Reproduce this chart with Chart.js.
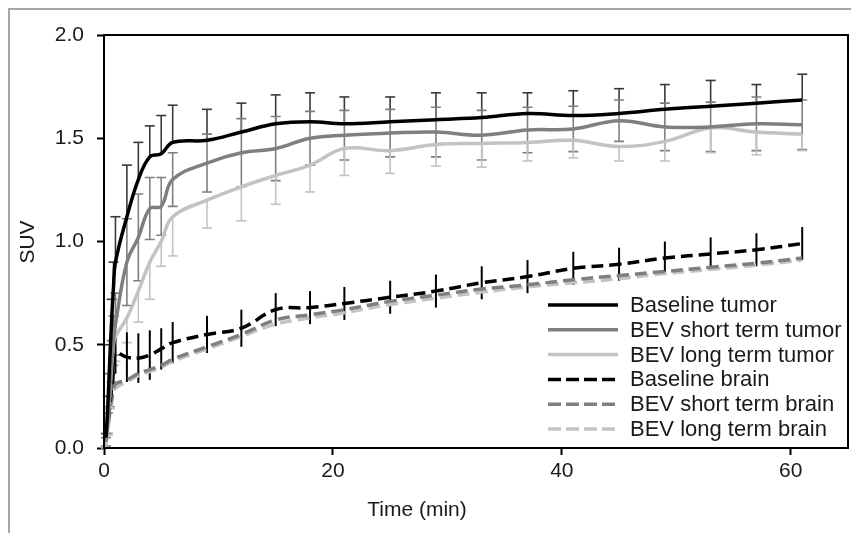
<!DOCTYPE html>
<html>
<head>
<meta charset="utf-8">
<script src="https://cdn.jsdelivr.net/npm/chart.js@4.4.1/dist/chart.umd.min.js"></script>
<style>
  html, body { margin: 0; padding: 0; background: #fff; }
  #wrap { position: relative; width: 851px; height: 533px; }
  #frame { position: absolute; left: 8px; top: 8px; right: 0; bottom: 0; border-top: 2px solid #a6a6a6; border-left: 2px solid #a6a6a6; pointer-events: none; }
  canvas { position: absolute; left: 0; top: 0; }
</style>
</head>
<body>
<div id="wrap">
  <canvas id="c" width="851" height="533"></canvas>
  <div id="frame"></div>
</div>
<script>
// ---- data ----
const times = [0.17,0.33,0.5,0.67,0.83,1,2,3,4,5,6,9,12,15,18,21,25,29,33,37,41,45,49,53,57,61];

const baselineTumor   = [0.05,0.2,0.42,0.62,0.78,0.9,1.12,1.30,1.41,1.425,1.48,1.49,1.53,1.57,1.58,1.57,1.58,1.59,1.60,1.62,1.61,1.62,1.64,1.655,1.67,1.685];
const baselineTumorSD = [0.02,0.05,0.08,0.1,0.12,0.22,0.25,0.18,0.15,0.185,0.18,0.15,0.14,0.14,0.14,0.13,0.12,0.13,0.12,0.10,0.12,0.12,0.12,0.125,0.09,0.125];

const shortTumor   = [0.03,0.12,0.28,0.42,0.52,0.6,0.9,1.02,1.16,1.17,1.30,1.38,1.43,1.45,1.50,1.515,1.525,1.53,1.515,1.54,1.545,1.585,1.555,1.555,1.57,1.565];
const shortTumorSD = [0.02,0.05,0.08,0.1,0.12,0.15,0.21,0.21,0.15,0.14,0.13,0.14,0.165,0.155,0.13,0.12,0.115,0.12,0.12,0.11,0.11,0.1,0.115,0.12,0.13,0.12];

const longTumor   = [0.02,0.1,0.25,0.4,0.5,0.54,0.63,0.76,0.9,1.0,1.12,1.20,1.265,1.32,1.37,1.45,1.44,1.47,1.475,1.48,1.49,1.46,1.485,1.55,1.53,1.52];
const longTumorSD = [0.02,0.04,0.06,0.08,0.1,0.12,0.12,0.15,0.18,0.12,0.19,0.135,0.165,0.14,0.13,0.13,0.11,0.105,0.115,0.09,0.085,0.07,0.095,0.12,0.11,0.08];

const baselineBrain   = [0.05,0.12,0.2,0.3,0.38,0.46,0.44,0.435,0.45,0.48,0.51,0.55,0.58,0.67,0.68,0.70,0.73,0.76,0.80,0.83,0.87,0.89,0.92,0.94,0.96,0.99];
const baselineBrainSD = [0.03,0.04,0.05,0.06,0.08,0.1,0.12,0.12,0.12,0.1,0.1,0.09,0.09,0.08,0.08,0.08,0.08,0.08,0.08,0.08,0.08,0.08,0.08,0.08,0.08,0.08];

const shortBrain = [0.03,0.1,0.18,0.24,0.28,0.31,0.33,0.36,0.38,0.40,0.43,0.49,0.55,0.62,0.645,0.67,0.71,0.74,0.77,0.79,0.815,0.835,0.855,0.875,0.895,0.92];
const longBrain  = [0.02,0.08,0.16,0.22,0.26,0.29,0.32,0.35,0.37,0.39,0.42,0.48,0.54,0.60,0.63,0.655,0.695,0.725,0.755,0.78,0.80,0.82,0.845,0.865,0.885,0.91];

const seriesNames = ["Baseline tumor","BEV short term tumor","BEV long term tumor","Baseline brain","BEV short term brain","BEV long term brain"];
const xTicks = [0,20,40,60];
const yTicks = [0,0.5,1.0,1.5,2.0];
const xTitle = "Time (min)";
const yTitle = "SUV";

// ---- build datasets ----
const pts = arr => times.map((t,i)=>({x:t, y:arr[i]}));
const FONT = "'Liberation Sans', Arial, sans-serif";
function ds(label, arr, color, dashed, sd, dir, barColor, barWidth) {
  return {
    label, data: pts(arr), borderColor: color, backgroundColor: color,
    borderWidth: 3.5, borderDash: dashed ? [12,6] : [], pointRadius: 0,
    tension: 0.4, fill: false,
    errSD: sd, errDir: dir, errColor: barColor, errWidth: barWidth
  };
}
const datasets = [
  ds(seriesNames[0], baselineTumor, '#000000', false, baselineTumorSD, 'plus', '#3a3a3a', 1.6),
  ds(seriesNames[1], shortTumor, '#7f7f7f', false, shortTumorSD, 'both', '#7f7f7f', 1.6),
  ds(seriesNames[2], longTumor, '#c3c3c3', false, longTumorSD, 'minus', '#c3c3c3', 1.6),
  ds(seriesNames[3], baselineBrain, '#000000', true, baselineBrainSD, 'both', '#000000', 2),
  ds(seriesNames[4], shortBrain, '#7f7f7f', true, null),
  ds(seriesNames[5], longBrain, '#c3c3c3', true, null)
];

const errorBars = {
  id: 'errorBars',
  beforeDatasetsDraw(chart) {
    const {ctx, scales:{x, y}} = chart;
    ctx.save();
    chart.data.datasets.forEach(d => {
      if (!d.errSD) return;
      ctx.strokeStyle = d.errColor; ctx.lineWidth = d.errWidth; ctx.setLineDash([]);
      d.data.forEach((p,i) => {
        const sd = d.errSD[i];
        const px = x.getPixelForValue(p.x);
        const top = d.errDir === 'minus' ? p.y : p.y + sd;
        const bot = d.errDir === 'plus' ? p.y : p.y - sd;
        const pt = y.getPixelForValue(top), pb = y.getPixelForValue(bot);
        ctx.beginPath(); ctx.moveTo(px, pt); ctx.lineTo(px, pb); ctx.stroke();
        if (d.errDir !== 'both' || d.errColor !== '#000000') {
          const cw = 5;
          ctx.beginPath();
          if (d.errDir !== 'minus') { ctx.moveTo(px-cw, pt); ctx.lineTo(px+cw, pt); }
          if (d.errDir !== 'plus') { ctx.moveTo(px-cw, pb); ctx.lineTo(px+cw, pb); }
          ctx.stroke();
        }
      });
    });
    ctx.restore();
  }
};

const decor = {
  id: 'decor',
  afterDraw(chart) {
    const {ctx, chartArea:a} = chart;
    ctx.save();
    // plot frame
    ctx.strokeStyle = '#000'; ctx.lineWidth = 2; ctx.setLineDash([]);
    ctx.strokeRect(a.left, a.top, a.right - a.left, a.bottom - a.top);
    // axis titles
    ctx.fillStyle = '#1a1a1a';
    ctx.font = '21px ' + FONT;
    ctx.textAlign = 'center'; ctx.textBaseline = 'middle';
    ctx.fillText(xTitle, 417, 510);
    ctx.save(); ctx.translate(28, 242); ctx.rotate(-Math.PI/2); ctx.fillText(yTitle, 0, 0); ctx.restore();
    // legend
    ctx.font = '22px ' + FONT;
    ctx.textAlign = 'left';
    chart.data.datasets.forEach((d,i) => {
      const yy = 305 + i*24.8;
      ctx.save();
      ctx.beginPath(); ctx.rect(a.left, a.top, a.right - a.left, a.bottom - a.top); ctx.clip();
      ctx.strokeStyle = d.borderColor; ctx.lineWidth = 3.5;
      ctx.setLineDash(d.borderDash.length ? [13,5] : []);
      ctx.beginPath(); ctx.moveTo(548, yy); ctx.lineTo(618, yy); ctx.stroke();
      ctx.fillStyle = '#1a1a1a';
      ctx.fillText(d.label, 630, yy + 1);
      ctx.restore();
    });
    ctx.restore();
  }
};

new Chart(document.getElementById('c'), {
  type: 'line',
  data: { datasets },
  plugins: [errorBars, decor],
  options: {
    responsive: false, animation: false,
    layout: { padding: { top: 35, right: 3, left: 0, bottom: 0 } },
    plugins: { legend: { display: false }, tooltip: { enabled: false } },
    scales: {
      x: {
        type: 'linear', min: 0, max: 65,
        afterBuildTicks: s => { s.ticks = xTicks.map(v => ({value: v})); },
        afterFit: s => { s.height = 85; },
        grid: { drawOnChartArea: false, drawTicks: true, tickLength: 7, tickColor: '#000', tickWidth: 2 },
        border: { display: true, color: '#000', width: 2 },
        ticks: { color: '#1a1a1a', font: { family: FONT, size: 21 }, padding: 4, maxRotation: 0 }
      },
      y: {
        type: 'linear', min: 0, max: 2,
        afterBuildTicks: s => { s.ticks = yTicks.map(v => ({value: v})); },
        afterFit: s => { s.width = 104; },
        grid: { drawOnChartArea: false, drawTicks: true, tickLength: 7, tickColor: '#000', tickWidth: 2 },
        border: { display: true, color: '#000', width: 2 },
        ticks: { color: '#1a1a1a', font: { family: FONT, size: 21 }, padding: 13, callback: v => Number(v).toFixed(1) }
      }
    }
  }
});
</script>
</body>
</html>
